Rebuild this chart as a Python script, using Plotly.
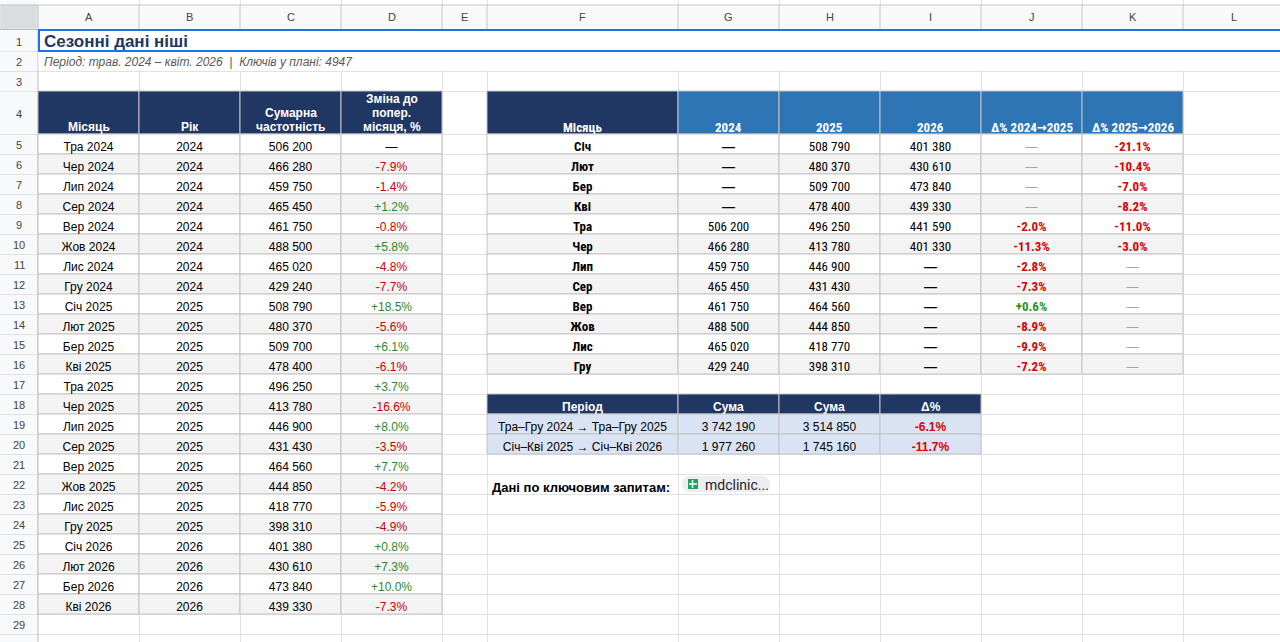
import plotly.graph_objects as go

# ---- data: monthly table (left) ----
month_labels = ["Тра 2024", "Чер 2024", "Лип 2024", "Сер 2024", "Вер 2024", "Жов 2024",
                "Лис 2024", "Гру 2024", "Січ 2025", "Лют 2025", "Бер 2025", "Кві 2025",
                "Тра 2025", "Чер 2025", "Лип 2025", "Сер 2025", "Вер 2025", "Жов 2025",
                "Лис 2025", "Гру 2025", "Січ 2026", "Лют 2026", "Бер 2026", "Кві 2026"]
month_years = [2024, 2024, 2024, 2024, 2024, 2024, 2024, 2024,
               2025, 2025, 2025, 2025, 2025, 2025, 2025, 2025, 2025, 2025, 2025, 2025,
               2026, 2026, 2026, 2026]
month_totals = [506200, 466280, 459750, 465450, 461750, 488500, 465020, 429240,
                508790, 480370, 509700, 478400, 496250, 413780, 446900, 431430,
                464560, 444850, 418770, 398310, 401380, 430610, 473840, 439330]
month_change = [None, -7.9, -1.4, 1.2, -0.8, 5.8, -4.8, -7.7, 18.5, -5.6, 6.1, -6.1,
                3.7, -16.6, 8.0, -3.5, 7.7, -4.2, -5.9, -4.9, 0.8, 7.3, 10.0, -7.3]

# ---- data: year-over-year table (right) ----
season_months = ["Січ", "Лют", "Бер", "Кві", "Тра", "Чер", "Лип", "Сер", "Вер", "Жов", "Лис", "Гру"]
vals_2024 = [None, None, None, None, 506200, 466280, 459750, 465450, 461750, 488500, 465020, 429240]
vals_2025 = [508790, 480370, 509700, 478400, 496250, 413780, 446900, 431430, 464560, 444850, 418770, 398310]
vals_2026 = [401380, 430610, 473840, 439330, 441590, 401330, None, None, None, None, None, None]
delta_24_25 = [None, None, None, None, -2.0, -11.3, -2.8, -7.3, 0.6, -8.9, -9.9, -7.2]
delta_25_26 = [-21.1, -10.4, -7.0, -8.2, -11.0, -3.0, None, None, None, None, None, None]

# ---- data: period sums ----
period_labels = ["Тра–Гру 2024 → Тра–Гру 2025", "Січ–Кві 2025 → Січ–Кві 2026"]
period_sum_prev = [3742190, 1977260]
period_sum_next = [3514850, 1745160]
period_delta = [-6.1, -11.7]

title_text = "Сезонні дані ніші"
subtitle_text = "Період: трав. 2024 – квіт. 2026  |  Ключів у плані: 4947"
left_headers = ["Місяць", "Рік", "Сумарна\nчастотність", "Зміна до\nпопер.\nмісяця, %"]
right_headers = ["Місяць", "2024", "2025", "2026", "Δ% 2024→2025", "Δ% 2025→2026"]
period_headers = ["Період", "Сума", "Сума", "Δ%"]
col_letters = ["A", "B", "C", "D", "E", "F", "G", "H", "I", "J", "K", "L"]

# ---- sheet geometry (pixels) ----
W, H = 1280, 642
COL_EDGES = [0, 38, 139, 240, 341, 442, 487, 678, 779, 880, 981, 1082, 1183, 1284]
N_ROWS = 30
FS = 12  # cell font size


def row_top(r):
    if r <= 4:
        return [None, 30, 51, 71, 91][r]
    return 134 + 20 * (r - 5)


def row_bot(r):
    return row_top(r + 1)


def cx(c):
    return (COL_EDGES[c] + COL_EDGES[c + 1]) / 2


def ty(r):
    return row_top(r) + 12


def fmt_num(v):
    return "—" if v is None else f"{v:,}".replace(",", " ")


def fmt_pct(v):
    return "—" if v is None else f"{v:+.1f}%"


NAVY = "#203764"
BLUE = "#2e75b6"
STRIPE = "#f3f3f3"
LIGHTBLUE = "#dae3f3"
BORDER = "#c3c3c3"
RED = "#cc0000"
RED_B = "#e00000"
GREEN = "#2a8a2a"
ARIAL = "Liberation Sans, Arial, sans-serif"
NARROW = ("Liberation Sans Narrow, Arial Narrow, Roboto Condensed, DejaVu Sans Condensed, "
          "Open Sans Condensed, Liberation Sans, sans-serif")

shapes = []
annotations = []


def rect(x0, x1, y0, y1, fill, line=None, width=1, layer="between"):
    d = dict(type="rect", xref="x", yref="y", x0=x0, x1=x1, y0=y0, y1=y1,
             fillcolor=fill, layer=layer)
    d["line"] = dict(color=line, width=width) if line else dict(width=0)
    shapes.append(d)


def line(x0, y0, x1, y1, color, width=1, layer="between"):
    shapes.append(dict(type="line", xref="x", yref="y", x0=x0, y0=y0, x1=x1, y1=y1,
                       line=dict(color=color, width=width), layer=layer))


def cell(c, r, fill):
    rect(COL_EDGES[c], COL_EDGES[c + 1], row_top(r), row_bot(r), fill, BORDER)


def label(x, y, text, size=FS, color="#000", family=ARIAL, weight="normal",
          xanchor="center", italic=False):
    annotations.append(dict(x=x, y=y, xref="x", yref="y", text=text, showarrow=False,
                            xanchor=xanchor, yanchor="middle",
                            font=dict(size=size, color=color, family=family, weight=weight,
                                      style="italic" if italic else "normal")))


fig = go.Figure()

# sheet chrome: column header strip and row header column
rect(0, W, 5, 29.5, "#f8f9fa")
rect(0, 38, 0, H, "#f8f9fa", layer="below")
rect(0, 37, 5, 29, "#dadce0", "#e8e8e8")
line(0, 5, W, 5, "#c4c7c5")
line(0, 29.5, W, 29.5, "#bdbdbd")
line(38, 5, 38, H, "#bdbdbd")
for c in range(1, 13):
    line(COL_EDGES[c + 1], 5, COL_EDGES[c + 1], 29.5, "#c4c7c5")
    label(cx(c), 17, col_letters[c - 1], size=11, color="#444")
for r in range(1, N_ROWS + 1):
    label(19, (row_top(r) + row_bot(r)) / 2 + 1, str(r), size=11, color="#444")

# merged title rows 1-2
rect(38.5, W + 4, 30.5, 70.5, "#ffffff")
rect(39, W + 4, 30, 51, "rgba(0,0,0,0)", "#1a73e8", width=2)
label(42, 41, title_text, size=17, color=NAVY, weight="bold", xanchor="left")
label(42, 62, subtitle_text, size=12, color="#595959", xanchor="left", italic=True)

# left table cells
for c in range(1, 5):
    cell(c, 4, NAVY)
for i in range(len(month_labels)):
    r = 5 + i
    for c in range(1, 5):
        cell(c, r, STRIPE if r % 2 == 0 else "#ffffff")
for c, h in enumerate(left_headers, start=1):
    parts = h.split("\n")
    for k, p in enumerate(parts):
        label(cx(c), 127 - 14 * (len(parts) - 1 - k), p, color="#ffffff", weight="bold")

# right table cells
cell(6, 4, NAVY)
for c in range(7, 12):
    cell(c, 4, BLUE)
for i in range(len(season_months)):
    r = 5 + i
    for c in range(6, 12):
        cell(c, r, STRIPE if r % 2 == 0 else "#ffffff")
for c, h in enumerate(right_headers, start=6):
    label(cx(c), 127, h, color="#ffffff", weight="bold", family=NARROW, size=13)

# period table cells
for c in range(6, 10):
    cell(c, 18, NAVY)
for i in range(len(period_labels)):
    for c in range(6, 10):
        cell(c, 19 + i, LIGHTBLUE)
for c, h in enumerate(period_headers, start=6):
    label(cx(c), ty(18) + 1, h, color="#ffffff", weight="bold")


def text_col(c, first_row, texts, colors, family=ARIAL, weight="normal", size=FS):
    fig.add_trace(go.Scatter(
        x=[cx(c)] * len(texts), y=[ty(first_row + i) + 2 for i in range(len(texts))],
        mode="text", text=texts, textposition="middle center",
        textfont=dict(family=family, size=size, color=colors, weight=weight),
        hoverinfo="skip", showlegend=False))


def pct_colors(vals, pos, neg, none):
    return [none if v is None else (pos if v >= 0 else neg) for v in vals]


# left table values
text_col(1, 5, month_labels, "#000")
text_col(2, 5, [str(y) for y in month_years], "#000")
text_col(3, 5, [fmt_num(v) for v in month_totals], "#000")
text_col(4, 5, [fmt_pct(v) for v in month_change], pct_colors(month_change, GREEN, RED, "#000"))

# right table values
text_col(6, 5, season_months, "#000", NARROW, "bold", 13)
for c, vals in zip((7, 8, 9), (vals_2024, vals_2025, vals_2026)):
    text_col(c, 5, ["" if v is None else fmt_num(v) for v in vals], "#000", NARROW, size=13)
    text_col(c, 5, ["—" if v is None else "" for v in vals], "#000", ARIAL, "bold", 13)
for c, vals in zip((10, 11), (delta_24_25, delta_25_26)):
    text_col(c, 5, [fmt_pct(v) if v is not None else "" for v in vals],
             pct_colors(vals, "#1e9a1e", RED_B, "#000"), NARROW, "bold", 13)
    text_col(c, 5, ["—" if v is None else "" for v in vals], "#a6a6a6", ARIAL, size=12)

# period table values
text_col(6, 19, period_labels, "#000")
text_col(7, 19, [fmt_num(v) for v in period_sum_prev], "#000")
text_col(8, 19, [fmt_num(v) for v in period_sum_next], "#000")
text_col(9, 19, [fmt_pct(v) for v in period_delta], pct_colors(period_delta, GREEN, RED_B, "#000"),
         weight="bold")

# link row
label(490, ty(22) + 1, "Дані по ключовим запитам:", weight="bold", xanchor="left", size=13)
chip_x0, chip_x1, chip_y0, chip_y1 = 682, 770, 476, 492
rad = (chip_y1 - chip_y0) / 2
shapes.append(dict(
    type="path", xref="x", yref="y", layer="between", fillcolor="#eceef1", line=dict(width=0),
    path=(f"M {chip_x0 + rad},{chip_y0} L {chip_x1 - rad},{chip_y0} "
          f"Q {chip_x1},{chip_y0} {chip_x1},{chip_y0 + rad} Q {chip_x1},{chip_y1} {chip_x1 - rad},{chip_y1} "
          f"L {chip_x0 + rad},{chip_y1} Q {chip_x0},{chip_y1} {chip_x0},{chip_y0 + rad} "
          f"Q {chip_x0},{chip_y0} {chip_x0 + rad},{chip_y0} Z")))
rect(688, 698, 479, 489, "#1fa463", layer="between")
line(689, 484, 697, 484, "#ffffff", 1.5)
line(692.5, 480, 692.5, 488, "#ffffff", 1.5)
label(703, 485, "mdclinic...", size=14, color="#1f1f1f", family="Roboto, Arial, sans-serif",
      xanchor="left")

grid_x = COL_EDGES[2:-1]
grid_y = [row_bot(r) for r in range(1, N_ROWS)]

fig.update_layout(
    width=W, height=H, margin=dict(l=0, r=0, t=0, b=0),
    paper_bgcolor="#ffffff", plot_bgcolor="#ffffff",
    shapes=shapes, annotations=annotations, showlegend=False,
    xaxis=dict(range=[0, W], tickvals=grid_x, showticklabels=False, ticks="",
               showgrid=True, gridcolor="#e2e2e2", gridwidth=1, zeroline=False,
               showline=False, fixedrange=True),
    yaxis=dict(range=[H, 0], tickvals=grid_y, showticklabels=False, ticks="",
               showgrid=True, gridcolor="#e2e2e2", gridwidth=1, zeroline=False,
               showline=False, fixedrange=True),
)

fig.write_html("out.html", config={"displayModeBar": False},
               post_script="document.body.style.margin = '0px';")
